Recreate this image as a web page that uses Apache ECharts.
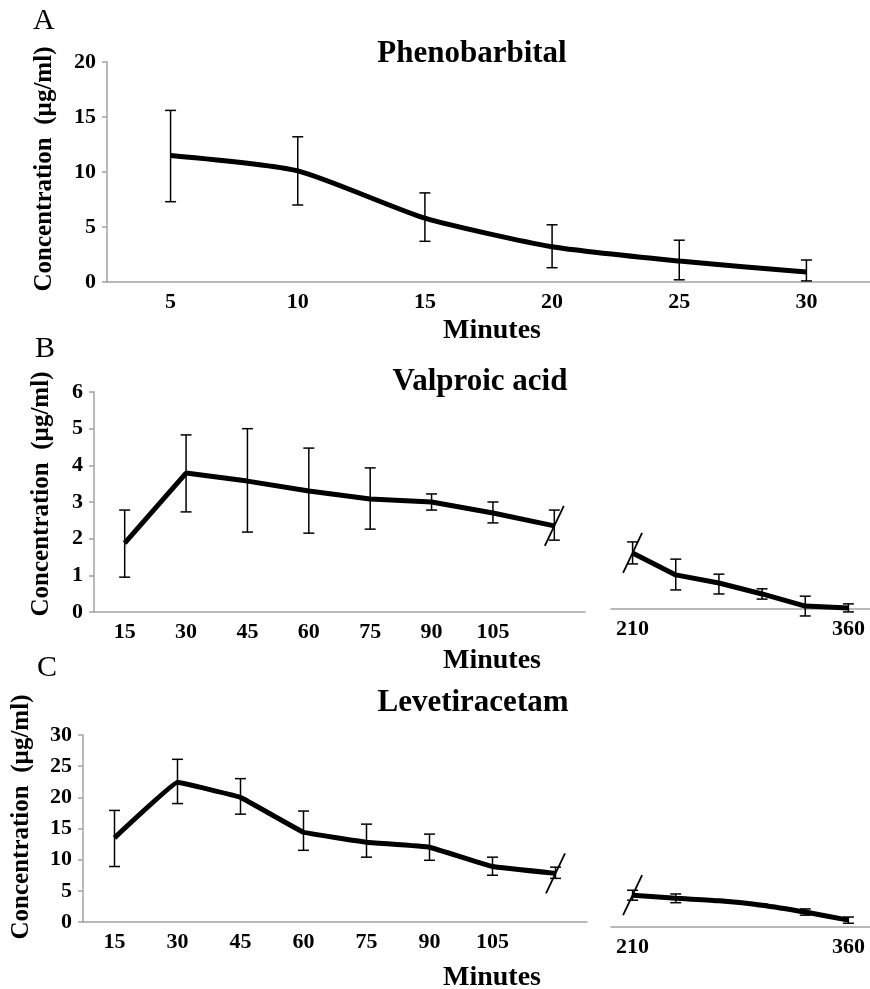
<!DOCTYPE html>
<html>
<head>
<meta charset="utf-8">
<script src="https://cdn.jsdelivr.net/npm/echarts@6/dist/echarts.min.js"></script>
<style>
  html, body { margin: 0; background: #fff; }
  #chart { width: 870px; height: 989px; }
</style>
</head>
<body>
<div id="chart"></div>
<script>
// A: Phenobarbital
const phenoMinutes = [5, 10, 15, 20, 25, 30]
const phenoMean = [11.5, 10.1, 5.8, 3.2, 1.9, 0.9]
const phenoLow = [7.3, 7.0, 3.7, 1.3, 0.2, 0.1]
const phenoHigh = [15.6, 13.2, 8.1, 5.2, 3.8, 2.0]

// B: Valproic acid (two segments with axis break)
const valproicEarlyMinutes = [15, 30, 45, 60, 75, 90, 105, 120]
const valproicEarlyMean = [1.88, 3.79, 3.57, 3.30, 3.08, 3.00, 2.70, 2.35]
const valproicEarlyLow = [0.95, 2.73, 2.18, 2.15, 2.26, 2.78, 2.43, 1.96]
const valproicEarlyHigh = [2.78, 4.83, 5.00, 4.47, 3.93, 3.22, 3.00, 2.78]
const valproicLateMinutes = [210, 240, 270, 300, 330, 360]
const valproicLateMean = [1.53, 0.93, 0.71, 0.41, 0.08, 0.03]
const valproicLateLow = [1.23, 0.52, 0.41, 0.27, -0.19, -0.08]
const valproicLateHigh = [1.83, 1.36, 0.95, 0.55, 0.35, 0.14]

// C: Levetiracetam
const levEarlyMinutes = [15, 30, 45, 60, 75, 90, 105, 120]
const levEarlyMean = [13.5, 22.4, 20.0, 14.4, 12.8, 12.0, 8.9, 7.8]
const levEarlyLow = [8.9, 19.0, 17.3, 11.5, 10.4, 9.9, 7.5, 7.0]
const levEarlyHigh = [17.9, 26.1, 23.0, 17.8, 15.7, 14.1, 10.4, 8.8]
const levLateMinutes = [210, 240, 270, 300, 330, 360]
const levLateMean = [5.1, 4.6, 4.2, 3.5, 2.4, 1.1]
const levLateLow = [4.3, 3.9, 4.0, 3.3, 1.9, 0.6]
const levLateHigh = [5.9, 5.3, 4.4, 3.7, 2.9, 1.6]

// labels shown on the x axes (others left blank)
const earlyShownLabels = [15, 30, 45, 60, 75, 90, 105]
const lateShownLabels = [210, 360]

const serif = 'Liberation Serif'
const axisGray = '#a3a3a3'

const chart = echarts.init(document.getElementById('chart'))

const xCat = (gridIndex, data, shown) => ({
  type: 'category',
  gridIndex,
  data: data.map(String),
  boundaryGap: true,
  axisLine: { lineStyle: { color: axisGray, width: 1.5 } },
  axisTick: { interval: 0, length: 6, lineStyle: { color: axisGray, width: 1.5 } },
  axisLabel: {
    interval: 0,
    margin: 9,
    color: '#000',
    fontFamily: serif,
    fontWeight: 'bold',
    fontSize: 22,
    formatter: v => (shown && shown.indexOf(Number(v)) < 0 ? '' : v)
  }
})

const yVal = (gridIndex, max, interval, show) => ({
  type: 'value',
  gridIndex,
  min: 0,
  max,
  interval,
  show,
  splitLine: { show: false },
  axisLine: { show: true, lineStyle: { color: axisGray, width: 1.5 } },
  axisTick: { show: true, length: 5, lineStyle: { color: axisGray, width: 1.5 } },
  axisLabel: { margin: 11, color: '#000', fontFamily: serif, fontWeight: 'bold', fontSize: 22 }
})

const lineSeries = (idx, data, smooth) => ({
  type: 'line',
  xAxisIndex: idx,
  yAxisIndex: idx,
  data,
  symbol: 'none',
  smooth,
  lineStyle: { color: '#000', width: 5 },
  z: 3
})

const errorSeries = (idx, low, high) => ({
  type: 'custom',
  xAxisIndex: idx,
  yAxisIndex: idx,
  data: low.map((l, i) => [i, l, high[i]]),
  encode: { x: 0, y: [1, 2] },
  clip: false,
  z: 2,
  renderItem: (params, api) => {
    const i = api.value(0)
    const lo = api.coord([i, api.value(1)])
    const hi = api.coord([i, api.value(2)])
    const w = 5.5
    const st = { stroke: '#000', lineWidth: 1.5 }
    return {
      type: 'group',
      children: [
        { type: 'line', shape: { x1: lo[0], y1: lo[1], x2: hi[0], y2: hi[1] }, style: st },
        { type: 'line', shape: { x1: lo[0] - w, y1: lo[1], x2: lo[0] + w, y2: lo[1] }, style: st },
        { type: 'line', shape: { x1: hi[0] - w, y1: hi[1], x2: hi[0] + w, y2: hi[1] }, style: st }
      ]
    }
  }
})

// slanted break mark through a data point
const breakSeries = (idx, pointIndex, value) => ({
  type: 'custom',
  xAxisIndex: idx,
  yAxisIndex: idx,
  data: [[pointIndex, value]],
  clip: false,
  z: 4,
  renderItem: (params, api) => {
    const p = api.coord([api.value(0), api.value(1)])
    return {
      type: 'line',
      shape: { x1: p[0] - 9.5, y1: p[1] + 20, x2: p[0] + 9.5, y2: p[1] - 20 },
      style: { stroke: '#000', lineWidth: 1.8 }
    }
  }
})

const txt = (text, x, y, size, weight, rotation) => ({
  type: 'text',
  x,
  y,
  rotation: rotation || 0,
  style: {
    text,
    fill: '#000',
    fontFamily: serif,
    fontSize: size,
    fontWeight: weight,
    align: rotation ? 'center' : (weight === 'normal' ? 'left' : 'center'),
    verticalAlign: 'middle'
  }
})

const option = {
  animation: false,
  backgroundColor: '#fff',
  grid: [
    { left: 107, top: 62, width: 774, height: 220 },
    { left: 94, top: 392, width: 491, height: 220 },
    { left: 611, top: 389, width: 269, height: 220 },
    { left: 83, top: 735, width: 504, height: 187 },
    { left: 611, top: 740, width: 269, height: 187 }
  ],
  xAxis: [
    xCat(0, phenoMinutes, null),
    xCat(1, valproicEarlyMinutes, earlyShownLabels),
    xCat(2, valproicLateMinutes, lateShownLabels),
    xCat(3, levEarlyMinutes, earlyShownLabels),
    xCat(4, levLateMinutes, lateShownLabels)
  ],
  yAxis: [
    yVal(0, 20, 5, true),
    yVal(1, 6, 1, true),
    yVal(2, 6, 1, false),
    yVal(3, 30, 5, true),
    yVal(4, 30, 5, false)
  ],
  series: [
    errorSeries(0, phenoLow, phenoHigh),
    lineSeries(0, phenoMean, 0.2),
    errorSeries(1, valproicEarlyLow, valproicEarlyHigh),
    lineSeries(1, valproicEarlyMean, false),
    breakSeries(1, valproicEarlyMean.length - 1, valproicEarlyMean[valproicEarlyMean.length - 1]),
    errorSeries(2, valproicLateLow, valproicLateHigh),
    lineSeries(2, valproicLateMean, false),
    breakSeries(2, 0, valproicLateMean[0]),
    errorSeries(3, levEarlyLow, levEarlyHigh),
    lineSeries(3, levEarlyMean, 0.05),
    breakSeries(3, levEarlyMean.length - 1, levEarlyMean[levEarlyMean.length - 1]),
    errorSeries(4, levLateLow, levLateHigh),
    lineSeries(4, levLateMean, 0.15),
    breakSeries(4, 0, levLateMean[0])
  ],
  graphic: [
    txt('A', 33, 21, 30, 'normal'),
    txt('B', 35, 349, 30, 'normal'),
    txt('C', 37, 668, 30, 'normal'),
    txt('Phenobarbital', 472, 54, 31, 'bold'),
    txt('Valproic acid', 480, 382, 31, 'bold'),
    txt('Levetiracetam', 473, 703, 31, 'bold'),
    txt('Minutes', 492, 331, 28, 'bold'),
    txt('Minutes', 492, 661, 28, 'bold'),
    txt('Minutes', 492, 978, 28, 'bold'),
    txt('Concentration  (µg/ml)', 45, 169, 25, 'bold', Math.PI / 2),
    txt('Concentration  (µg/ml)', 42, 494, 25, 'bold', Math.PI / 2),
    txt('Concentration  (µg/ml)', 22, 817, 25, 'bold', Math.PI / 2)
  ]
}

chart.setOption(option)
</script>
</body>
</html>
